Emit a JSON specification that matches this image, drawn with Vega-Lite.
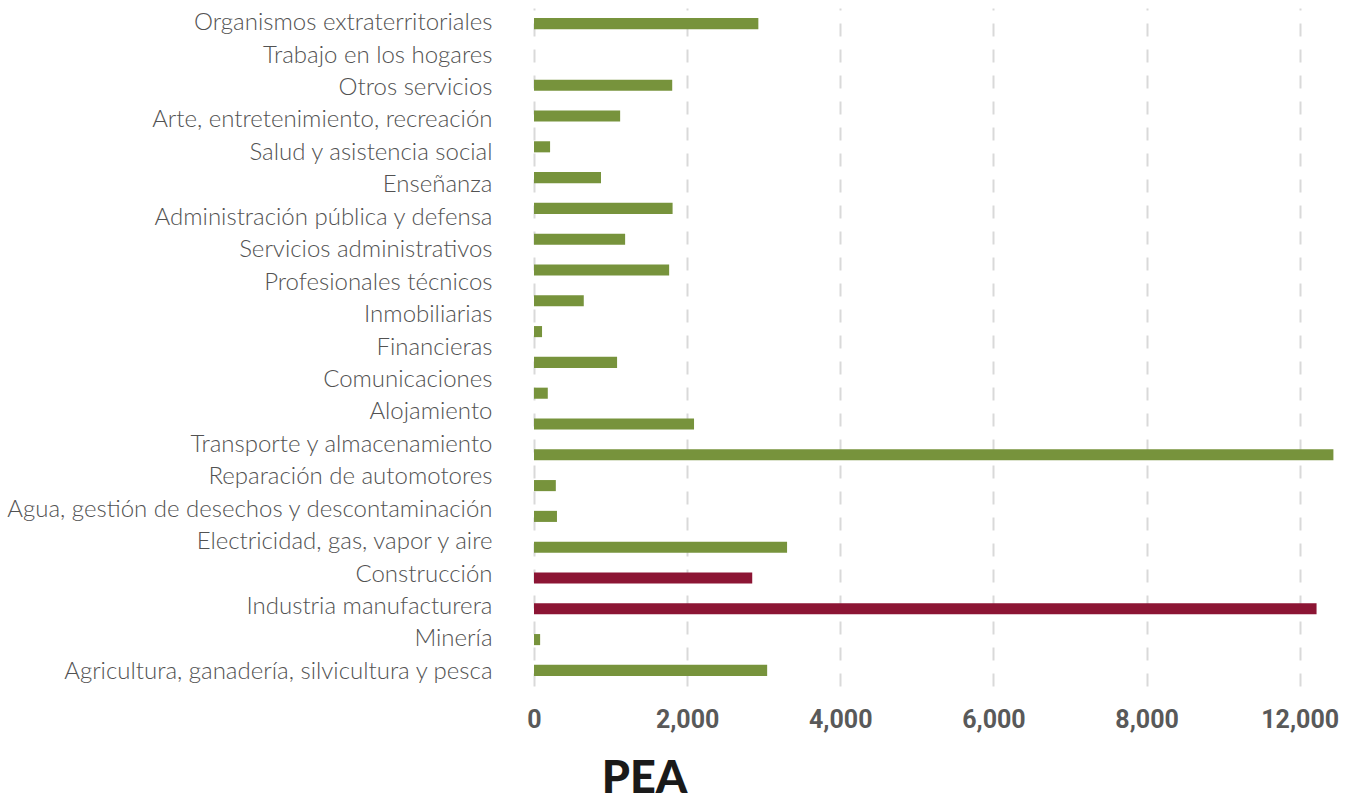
{
  "$schema": "https://vega.github.io/schema/vega-lite/v6.json",
  "width": 804,
  "height": 678,
  "autosize": {"type": "none"},
  "padding": {"left": 534, "top": 8, "right": 12, "bottom": 111},
  "background": "white",
  "config": {"view": {"stroke": null}},
  "datasets": {
    "sectores": [
      {"sector": "Organismos extraterritoriales"},
      {"sector": "Trabajo en los hogares"},
      {"sector": "Otros servicios"},
      {"sector": "Arte, entretenimiento, recreación"},
      {"sector": "Salud y asistencia social"},
      {"sector": "Enseñanza"},
      {"sector": "Administración pública y defensa"},
      {"sector": "Servicios administrativos"},
      {"sector": "Profesionales técnicos"},
      {"sector": "Inmobiliarias"},
      {"sector": "Financieras"},
      {"sector": "Comunicaciones"},
      {"sector": "Alojamiento"},
      {"sector": "Transporte y almacenamiento"},
      {"sector": "Reparación de automotores"},
      {"sector": "Agua, gestión de desechos y descontaminación"},
      {"sector": "Electricidad, gas, vapor y aire"},
      {"sector": "Construcción"},
      {"sector": "Industria manufacturera"},
      {"sector": "Minería"},
      {"sector": "Agricultura, ganadería, silvicultura y pesca"}
    ],
    "barras": [
      {"posicion": 1, "pea": 2930, "grupo": "otros"},
      {"posicion": 2, "pea": 0, "grupo": "otros"},
      {"posicion": 3, "pea": 1805, "grupo": "otros"},
      {"posicion": 4, "pea": 1125, "grupo": "otros"},
      {"posicion": 5, "pea": 210, "grupo": "otros"},
      {"posicion": 6, "pea": 875, "grupo": "otros"},
      {"posicion": 7, "pea": 1810, "grupo": "otros"},
      {"posicion": 8, "pea": 1190, "grupo": "otros"},
      {"posicion": 9, "pea": 1765, "grupo": "otros"},
      {"posicion": 10, "pea": 650, "grupo": "otros"},
      {"posicion": 11, "pea": 105, "grupo": "otros"},
      {"posicion": 12, "pea": 1085, "grupo": "otros"},
      {"posicion": 13, "pea": 180, "grupo": "otros"},
      {"posicion": 14, "pea": 2090, "grupo": "otros"},
      {"posicion": 15, "pea": 10440, "grupo": "otros"},
      {"posicion": 16, "pea": 285, "grupo": "otros"},
      {"posicion": 17, "pea": 300, "grupo": "otros"},
      {"posicion": 18, "pea": 3305, "grupo": "otros"},
      {"posicion": 19, "pea": 2850, "grupo": "destacado"},
      {"posicion": 20, "pea": 10220, "grupo": "destacado"},
      {"posicion": 21, "pea": 80, "grupo": "otros"},
      {"posicion": 22, "pea": 3045, "grupo": "otros"}
    ]
  },
  "layer": [
    {
      "data": {"name": "sectores"},
      "mark": {"type": "text", "text": ""},
      "encoding": {
        "y": {
          "field": "sector",
          "type": "nominal",
          "sort": null,
          "scale": {"type": "point", "padding": 0.45},
          "axis": {
            "title": null,
            "domain": false,
            "ticks": false,
            "grid": false,
            "labelFont": "Lato",
            "labelFontWeight": 300,
            "labelFontSize": 24,
            "labelColor": "#525252",
            "labelPadding": 42,
            "labelLimit": 700
          }
        }
      }
    },
    {
      "data": {"name": "barras"},
      "mark": {"type": "bar"},
      "encoding": {
        "y": {
          "field": "posicion",
          "type": "ordinal",
          "sort": null,
          "scale": {"paddingInner": 0.64, "paddingOuter": 0.327},
          "axis": null
        },
        "x": {
          "field": "pea",
          "type": "quantitative",
          "scale": {"domain": [0, 10500], "nice": false},
          "axis": {
            "values": [0, 2000, 4000, 6000, 8000, 10000],
            "labelExpr": "datum.value == 10000 ? '12,000' : format(datum.value, ',')",
            "grid": true,
            "gridDash": [13, 13],
            "gridColor": "#d9d9d9",
            "gridWidth": 2,
            "domain": false,
            "ticks": false,
            "labelFont": "Roboto",
            "labelFontWeight": "bold",
            "labelFontSize": 25,
            "labelColor": "#595959",
            "labelPadding": 21,
            "labelFlush": false,
            "title": "PEA",
            "titleFont": "Lato",
            "titleFontWeight": 900,
            "titleFontSize": 45,
            "titleColor": "#1a1a1a",
            "titleX": 110,
            "titleY": 106,
            "titleAlign": "center",
            "titleBaseline": "alphabetic"
          }
        },
        "color": {
          "field": "grupo",
          "type": "nominal",
          "scale": {"domain": ["otros", "destacado"], "range": ["#77933c", "#8c1534"]},
          "legend": null
        }
      }
    }
  ],
  "resolve": {"scale": {"y": "independent"}}
}
